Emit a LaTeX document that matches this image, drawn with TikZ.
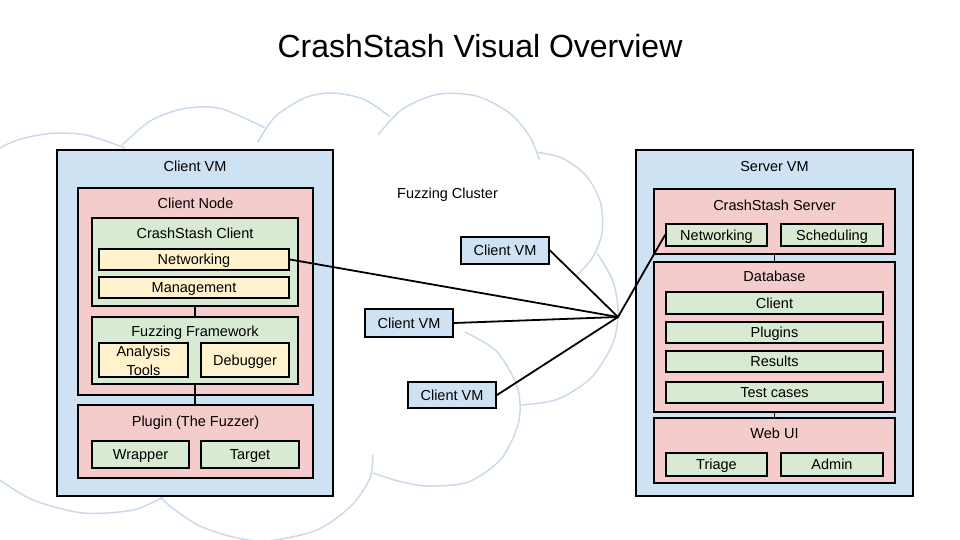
\documentclass[tikz,border=0pt]{standalone}
\usepackage{fontspec}
\setmainfont{Liberation Sans}
\definecolor{vmblue}{RGB}{207,226,243}
\definecolor{nodered}{RGB}{244,204,204}
\definecolor{compgreen}{RGB}{217,234,211}
\definecolor{partyellow}{RGB}{255,242,204}
\definecolor{cloudline}{RGB}{201,218,236}
\begin{document}
\begin{tikzpicture}[x=1pt,y=-1pt,
  txt/.style={font=\fontsize{14.5}{17}\selectfont, text height=10.4pt, text depth=0pt},
  box/.style={draw=black, line width=2pt, inner sep=0pt, txt},
  vmbox/.style={box, fill=vmblue},
  redbox/.style={box, fill=nodered},
  greenbox/.style={box, fill=compgreen},
  yellowbox/.style={box, fill=partyellow},
  lbl/.style={txt, anchor=center, inner sep=0pt},
  wire/.style={draw=black, line width=1.8pt, line cap=round, line join=round},
  cloudarc/.style={draw=cloudline, line width=1.5pt},
]
\useasboundingbox (0,0) rectangle (960,540);

% cloud
\begin{scope}
\clip (0,0) rectangle (960,540);
\draw[cloudarc] plot[smooth] coordinates {(-44,182) (-17,158) (15,141) (50,133.5) (86,135) (125,148)};
\draw[cloudarc] plot[smooth] coordinates {(121.8,145.3) (150.5,120.8) (184.3,108.5) (220.3,108.5) (264.7,127.7)};
\draw[cloudarc] plot[smooth] coordinates {(257.8,142.3) (275.1,116.7) (304.7,97.9) (332.4,93) (364.1,99.4) (389.7,116.7)};
\draw[cloudarc] plot[smooth] coordinates {(378.2,134.7) (402.5,109.1) (438,94.3) (476.4,96) (510.4,113.7) (530.2,137.4) (539.5,160.2)};
\draw[cloudarc] plot[smooth] coordinates {(536.4,152) (563.2,158.5) (586.9,176.6) (600.7,203.1) (602,233) (592.5,257.6) (576.5,275.4)};
\draw[cloudarc] plot[smooth] coordinates {(597.1,253.1) (612.6,280.3) (618.2,312.1) (612.6,343.9) (591,377.9) (557,399.5) (520.3,405)};
\draw[cloudarc] plot[smooth] coordinates {(465.1,332) (496.7,351.4) (517.3,387) (518.8,421.3) (501.4,458.5) (467.8,482.1) (427,486) (398,481) (373,473)};
\draw[cloudarc] plot[smooth] coordinates {(373,455) (370,478) (352,505) (317,530) (267,541) (233,537) (200,526) (175,510) (160,497)};
\draw[cloudarc] plot[smooth] coordinates {(163,497) (133,510) (83,513) (33,500) (0,480) (-20,465)};
\end{scope}

% title
\node[font=\fontsize{32}{38}\selectfont, text height=22.9pt, text depth=0pt, inner sep=0pt] (title) at (480,46.5) {CrashStash Visual Overview};
\node[lbl] (fc) at (447.5,193.5) {Fuzzing Cluster};

% client side
\node[vmbox, minimum width=276pt, minimum height=346pt, label={[lbl,yshift=-17pt]north:Client VM}] (cvm) at (195,323) {};
\node[redbox, minimum width=235pt, minimum height=207pt, label={[lbl,yshift=-16pt]north:Client Node}] (cnode) at (195.5,291.5) {};
\node[greenbox, minimum width=206pt, minimum height=88pt, label={[lbl,yshift=-16pt]north:CrashStash Client}] (csc) at (195,262) {};
\node[yellowbox, minimum width=190pt, minimum height=21pt] (cnet) at (194,259.5) {Networking};
\node[yellowbox, minimum width=190pt, minimum height=21pt] (cmgmt) at (194,287.5) {Management};
\node[greenbox, minimum width=206pt, minimum height=67pt, label={[lbl,yshift=-15pt]north:Fuzzing Framework}] (ff) at (195,350.5) {};
\node[yellowbox, minimum width=89pt, minimum height=34pt, align=center, font=\fontsize{14.5}{19}\selectfont, text height=30.4pt, text depth=0pt] (atools) at (143.5,360) {Analysis\\Tools};
\node[yellowbox, minimum width=88pt, minimum height=34pt] (dbg) at (245,360) {Debugger};
\node[redbox, minimum width=235pt, minimum height=73pt, label={[lbl,yshift=-17pt]north:Plugin (The Fuzzer)}] (plugin) at (195.5,441.5) {};
\node[greenbox, minimum width=97pt, minimum height=27pt] (wrap) at (140.5,454.5) {Wrapper};
\node[greenbox, minimum width=98pt, minimum height=27pt] (tgt) at (250,454.5) {Target};

% server side
\node[vmbox, minimum width=277pt, minimum height=346pt, label={[lbl,yshift=-17pt]north:Server VM}] (svm) at (774.5,323) {};
\node[redbox, minimum width=241pt, minimum height=65pt, label={[lbl,yshift=-17pt]north:CrashStash Server}] (css) at (774.5,221.5) {};
\node[greenbox, minimum width=101pt, minimum height=22pt] (snet) at (716.5,235) {Networking};
\node[greenbox, minimum width=102pt, minimum height=22pt] (sched) at (832,235) {Scheduling};
\node[redbox, minimum width=241pt, minimum height=150pt, label={[lbl,yshift=-15pt]north:Database}] (db) at (774.5,337) {};
\node[greenbox, minimum width=217pt, minimum height=22pt] (dbclient) at (774.5,303) {Client};
\node[greenbox, minimum width=217pt, minimum height=21pt] (dbplug) at (774.5,332.5) {Plugins};
\node[greenbox, minimum width=217pt, minimum height=21pt] (dbres) at (774.5,361.5) {Results};
\node[greenbox, minimum width=217pt, minimum height=21pt] (dbtest) at (774.5,392.5) {Test cases};
\node[redbox, minimum width=241pt, minimum height=65pt, label={[lbl,yshift=-16pt]north:Web UI}] (web) at (774.5,450.5) {};
\node[greenbox, minimum width=101pt, minimum height=23pt] (triage) at (716.5,464.5) {Triage};
\node[greenbox, minimum width=102pt, minimum height=23pt] (admin) at (832,464.5) {Admin};

% cluster VMs
\node[vmbox, minimum width=88pt, minimum height=27pt] (vm1) at (505,250.5) {Client VM};
\node[vmbox, minimum width=88pt, minimum height=28pt] (vm2) at (409,323) {Client VM};
\node[vmbox, minimum width=88pt, minimum height=26pt] (vm3) at (452,395) {Client VM};
\coordinate (hub) at (618,317);

% connectors
\draw[wire] (csc.south) -- (ff.north);
\draw[wire] (ff.south) -- (ff.south |- plugin.north);
\draw[wire] (css.south) -- (db.north);
\draw[wire] (db.south) -- (web.north);
\draw[wire] (cnet.east) -- (hub);
\draw[wire] (vm1.east) -- (hub);
\draw[wire] (vm2.east) -- (hub);
\draw[wire] (vm3.east) -- (hub);
\draw[wire] (hub) -- (snet.west);
\end{tikzpicture}
\end{document}
